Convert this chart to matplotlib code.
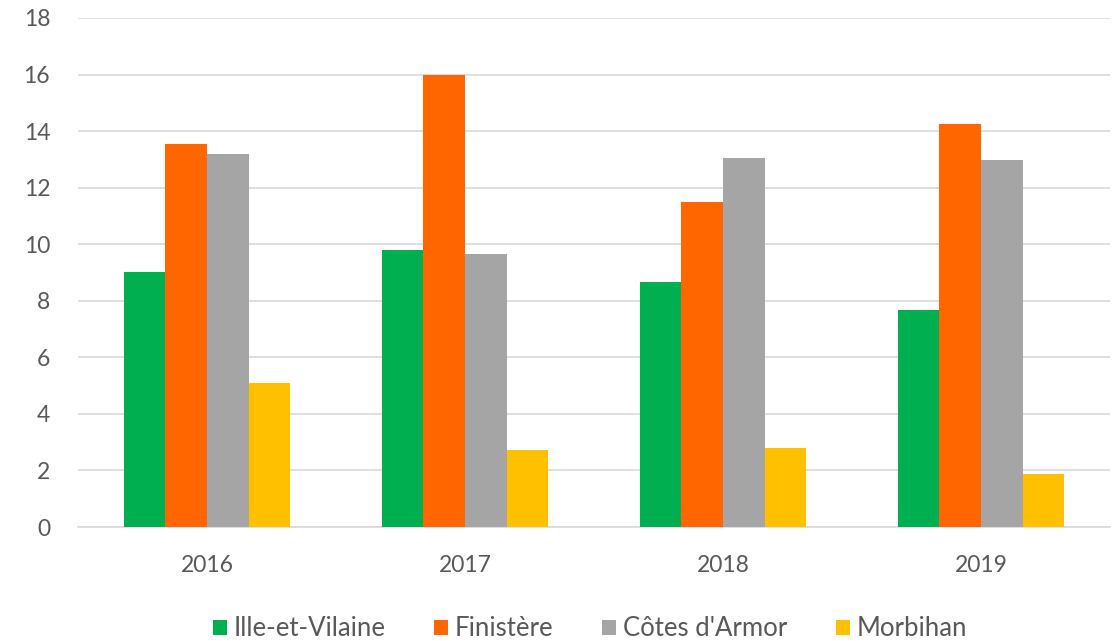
import matplotlib
matplotlib.use("Agg")
import matplotlib.pyplot as plt
import numpy as np

years = ["2016", "2017", "2018", "2019"]
series_names = ["Ille-et-Vilaine", "Finistère", "Côtes d'Armor", "Morbihan"]
ille_et_vilaine = [9.02, 9.81, 8.67, 7.69]
finistere = [13.56, 15.97, 11.50, 14.26]
cotes_darmor = [13.20, 9.67, 13.05, 12.99]
morbihan = [5.08, 2.74, 2.80, 1.87]
colors = ["#00B050", "#FF6600", "#A5A5A5", "#FFC000"]
yticks = [0, 2, 4, 6, 8, 10, 12, 14, 16, 18]

plt.rcParams['font.family'] = ['Lato', 'DejaVu Sans']

fig = plt.figure(figsize=(11.2, 6.41), dpi=100)
ax = fig.add_axes([78/1120, 1-527/641, (1110-78)/1120, (527-18)/641])

x = np.arange(len(years))
group = 0.645
w = group / 4
data = [ille_et_vilaine, finistere, cotes_darmor, morbihan]
for i, (vals, name, c) in enumerate(zip(data, series_names, colors)):
    ax.bar(x - group/2 + w*(i+0.5), vals, width=w, color=c, label=name, zorder=3)

ax.set_xlim(-0.5, len(years)-0.5)
ax.set_ylim(0, 18)
ax.set_yticks(yticks)
ax.set_xticks(x)
ax.set_xticklabels(years)
ax.grid(axis='y', color='#D9D9D9', linewidth=1.2, zorder=0)
for s in ['top', 'right', 'left']:
    ax.spines[s].set_visible(False)
ax.spines['bottom'].set_color('#D9D9D9')
ax.spines['bottom'].set_linewidth(1.2)
ax.tick_params(axis='both', length=0, labelsize=16.5, labelcolor='#595959')
ax.tick_params(axis='y', pad=20)
ax.tick_params(axis='x', pad=20)

fig.legend(loc='center', bbox_to_anchor=(590/1120, 1-629/641), ncol=4, frameon=False,
           fontsize=18.5, labelcolor='#595959', handlelength=0.55, handleheight=0.55,
           handletextpad=0.25, columnspacing=1.9)

fig.savefig("out.png", dpi=100)
